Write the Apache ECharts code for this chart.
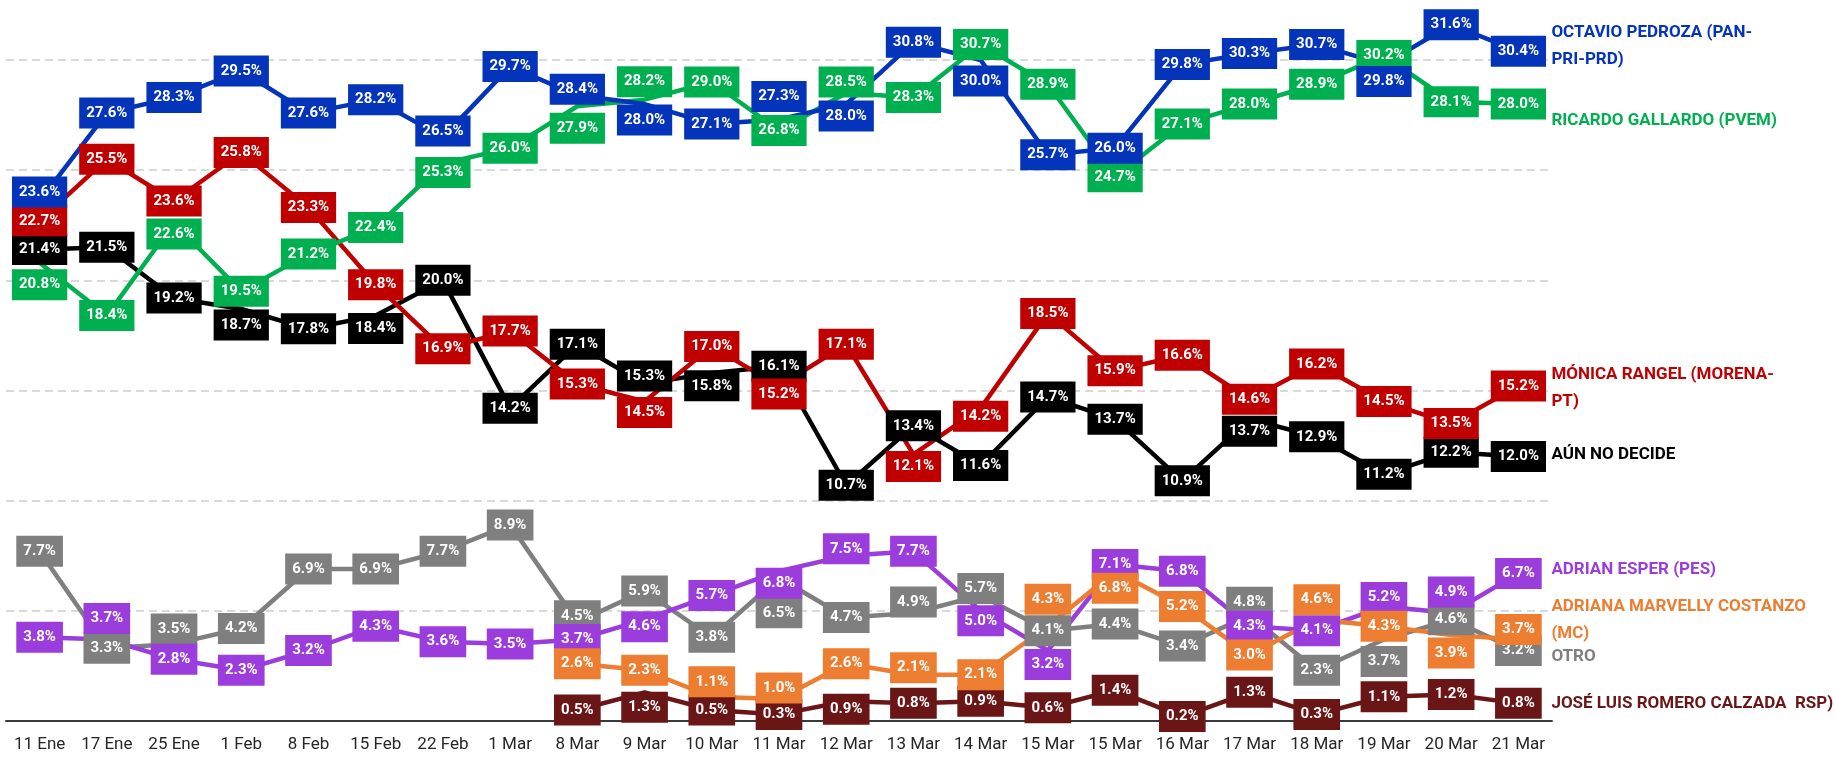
<!DOCTYPE html>
<html>
<head>
<meta charset="utf-8">
<script src="https://cdn.jsdelivr.net/npm/echarts@6/dist/echarts.min.js"></script>
<style>
  html, body { margin: 0; padding: 0; background: #fff; }
  #chart { width: 1835px; height: 759px; }
</style>
</head>
<body>
<div id="chart"></div>
<script>
// poll dates (15 Mar appears twice in the source)
const dates = ["11 Ene", "17 Ene", "25 Ene", "1 Feb", "8 Feb", "15 Feb", "22 Feb", "1 Mar",
  "8 Mar", "9 Mar", "10 Mar", "11 Mar", "12 Mar", "13 Mar", "14 Mar", "15 Mar", "15 Mar",
  "16 Mar", "17 Mar", "18 Mar", "19 Mar", "20 Mar", "21 Mar"];

const octavio = [23.6, 27.6, 28.3, 29.5, 27.6, 28.2, 26.5, 29.7, 28.4, 28.0, 27.1, 27.3,
  28.0, 30.8, 30.0, 25.7, 26.0, 29.8, 30.3, 30.7, 29.8, 31.6, 30.4];
const ricardo = [20.8, 18.4, 22.6, 19.5, 21.2, 22.4, 25.3, 26.0, 27.9, 28.2, 29.0, 26.8,
  28.5, 28.3, 30.7, 28.9, 24.7, 27.1, 28.0, 28.9, 30.2, 28.1, 28.0];
const monica = [22.7, 25.5, 23.6, 25.8, 23.3, 19.8, 16.9, 17.7, 15.3, 14.5, 17.0, 15.2,
  17.1, 12.1, 14.2, 18.5, 15.9, 16.6, 14.6, 16.2, 14.5, 13.5, 15.2];
const aunNoDecide = [21.4, 21.5, 19.2, 18.7, 17.8, 18.4, 20.0, 14.2, 17.1, 15.3, 15.8, 16.1,
  10.7, 13.4, 11.6, 14.7, 13.7, 10.9, 13.7, 12.9, 11.2, 12.2, 12.0];
const adrian = [3.8, 3.7, 2.8, 2.3, 3.2, 4.3, 3.6, 3.5, 3.7, 4.6, 5.7, 6.8,
  7.5, 7.7, 5.0, 3.2, 7.1, 6.8, 4.3, 4.1, 5.2, 4.9, 6.7];
const adriana = [null, null, null, null, null, null, null, null, 2.6, 2.3, 1.1, 1.0,
  2.6, 2.1, 2.1, 4.3, 6.8, 5.2, 3.0, 4.6, 4.3, 3.9, 3.7];
const otro = [7.7, 3.3, 3.5, 4.2, 6.9, 6.9, 7.7, 8.9, 4.5, 5.9, 3.8, 6.5,
  4.7, 4.9, 5.7, 4.1, 4.4, 3.4, 4.8, 2.3, 3.7, 4.6, 3.2];
const jose = [null, null, null, null, null, null, null, null, 0.5, 1.3, 0.5, 0.3,
  0.9, 0.8, 0.9, 0.6, 1.4, 0.2, 1.3, 0.3, 1.1, 1.2, 0.8];

const FONT = "Roboto, 'Liberation Sans', sans-serif";

// drawing order: later series sit on top
const lines = [
  { name: "JOSÉ LUIS ROMERO CALZADA  RSP)", data: jose, color: "#6B1616", nameDy: 0,
    shift: { 9: 15, 12: 8 } },
  { name: "OTRO", data: otro, color: "#7F7F7F", nameDy: 6,
    shift: { 2: -15, 8: -6, 11: 35, 13: -11, 14: -7, 18: -13, 20: 22 } },
  { name: "ADRIAN ESPER (PES)", data: adrian, color: "#9A3DDC", nameDy: -4,
    shift: { 1: -21, 9: 7, 11: 12, 12: -7, 14: 10, 15: 14, 20: -9, 21: -21 } },
  { name: "ADRIANA MARVELLY COSTANZO\n(MC)", data: adriana, color: "#ED7D31", nameDy: -19,
    shift: { 10: -15, 11: -11, 13: -7, 15: -27, 16: 17, 19: -20, 21: 18, 22: -10 } },
  { name: "AÚN NO DECIDE", data: aunNoDecide, color: "#000000", nameDy: -2,
    shift: { 3: 16, 5: 13, 9: -8, 10: 13, 18: 12 } },
  { name: "MÓNICA RANGEL (MORENA-\nPT)", data: monica, color: "#C00000", nameDy: 2,
    shift: { 9: 11, 11: 8, 13: 12, 14: 8 } },
  { name: "RICARDO GALLARDO (PVEM)", data: ricardo, color: "#00B050", nameDy: 17,
    shift: { 0: 22, 2: 11, 6: 9, 8: 22, 9: -18, 12: -11 } },
  { name: "OCTAVIO PEDROZA (PAN-\nPRI-PRD)", data: octavio, color: "#0334BA", nameDy: -5,
    shift: { 0: -9, 6: -6, 8: -6, 9: 16, 11: -23, 12: 12, 14: 21, 20: 17 } }
];

const chart = echarts.init(document.getElementById("chart"), null, { renderer: "canvas" });

const series = lines.map((s) => ({
  name: s.name,
  type: "line",
  clip: false,
  symbol: "circle",
  symbolSize: 2,
  lineStyle: { width: 4.5, color: s.color },
  itemStyle: { color: s.color },
  emphasis: { disabled: true },
  label: {
    show: true,
    position: "inside",
    formatter: (p) => p.value.toFixed(1) + "%",
    backgroundColor: s.color,
    color: "#fff",
    fontFamily: FONT,
    fontWeight: "bold",
    fontSize: 15,
    lineHeight: 15,
    padding: [8, 7]
  },
  endLabel: {
    show: true,
    formatter: () => s.name,
    color: s.color,
    fontFamily: FONT,
    fontWeight: "bold",
    fontSize: 17,
    lineHeight: 27,
    distance: 33,
    offset: [0, s.nameDy]
  },
  data: s.data.map((v, i) => {
    if (v == null) return null;
    if (s.shift[i] != null) return { value: v, label: { offset: [0, s.shift[i]] } };
    return v;
  })
}));

chart.setOption({
  backgroundColor: "#fff",
  animation: false,
  grid: { left: 6, right: 283, top: 60, bottom: 38, containLabel: false },
  xAxis: {
    type: "category",
    data: dates,
    boundaryGap: true,
    axisTick: { show: false },
    axisLine: { lineStyle: { color: "#3A3A3A", width: 2 } },
    axisLabel: { interval: 0, margin: 15, color: "#262626", fontFamily: FONT, fontSize: 17 }
  },
  yAxis: {
    type: "value",
    min: 0,
    max: 30,
    interval: 5,
    axisLine: { show: false },
    axisTick: { show: false },
    axisLabel: { show: false },
    splitLine: { lineStyle: { color: "#D9D9D9", width: 2, type: [8, 5] } }
  },
  series
});
</script>
</body>
</html>
